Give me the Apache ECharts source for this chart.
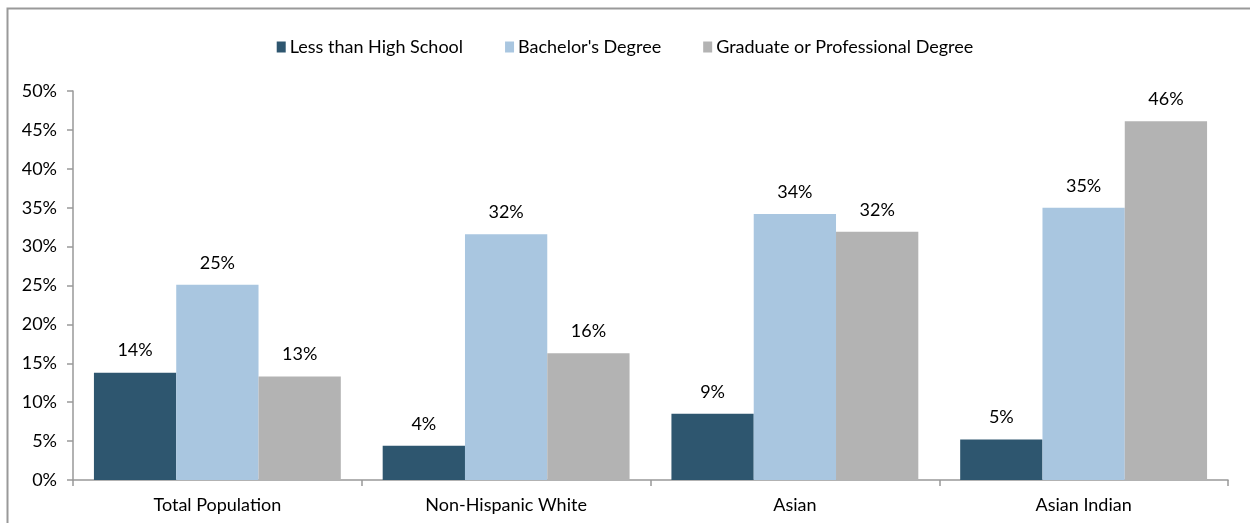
<!DOCTYPE html>
<html><head><meta charset="utf-8">
<script src="https://cdn.jsdelivr.net/npm/echarts@6/dist/echarts.min.js"></script>
<style>html,body{margin:0;padding:0;background:#fff}#c{width:1250px;height:523px}</style>
</head><body><div id="c"></div>
<script>
const categories = ["Total Population", "Non-Hispanic White", "Asian", "Asian Indian"];
const seriesNames = ["Less than High School", "Bachelor's Degree", "Graduate or Professional Degree"];
const lessThanHS = [13.8, 4.4, 8.5, 5.2];
const bachelors = [25.1, 31.6, 34.2, 35.0];
const graduate = [13.3, 16.3, 31.9, 46.1];
const colors = ["#2e566f", "#a9c6e0", "#b3b3b3"];
const yTicks = [0, 5, 10, 15, 20, 25, 30, 35, 40, 45, 50];

const font = "Lato, 'Open Sans', sans-serif";
const fs = 18;
const chart = echarts.init(document.getElementById('c'), null, {renderer: 'canvas'});
const mk = (name, data, i) => ({
  name, type: 'bar', data, barGap: '0%', barCategoryGap: '14.5%',
  itemStyle: {color: colors[i]},
  label: {show: true, position: 'top', distance: 13, color: '#000', fontSize: fs, fontFamily: font,
    formatter: p => Math.round(p.value) + '%'}
});
chart.setOption({
  animation: false,
  graphic: [{type: 'rect', shape: {x: 7.5, y: 8.5, width: 1400, height: 700},
    style: {fill: 'none', stroke: '#999', lineWidth: 2}, silent: true}],
  legend: {top: 33, left: 'center', itemWidth: 9, itemHeight: 11, itemGap: 42,
    icon: 'rect', textStyle: {fontSize: fs, fontFamily: font, color: '#000', padding: [0,0,0,-1]}},
  grid: {left: 73, right: 22, top: 91, bottom: 43, containLabel: false},
  xAxis: {type: 'category', data: categories,
    axisLine: {lineStyle: {color: '#999', width: 1.5}},
    axisTick: {show: true, length: 6, lineStyle: {color: '#999', width: 1.5}},
    axisLabel: {fontSize: fs, fontFamily: font, color: '#000', margin: 16}},
  yAxis: {type: 'value', min: 0, max: 50, interval: 5,
    axisLine: {show: true, lineStyle: {color: '#999', width: 1.5}},
    axisTick: {show: true, length: 6, lineStyle: {color: '#999', width: 1.5}},
    splitLine: {show: false},
    axisLabel: {fontSize: fs, fontFamily: font, color: '#000', margin: 16,
      formatter: v => yTicks.includes(v) ? v + '%' : ''}},
  series: [mk(seriesNames[0], lessThanHS, 0), mk(seriesNames[1], bachelors, 1), mk(seriesNames[2], graduate, 2)]
});
</script></body></html>
